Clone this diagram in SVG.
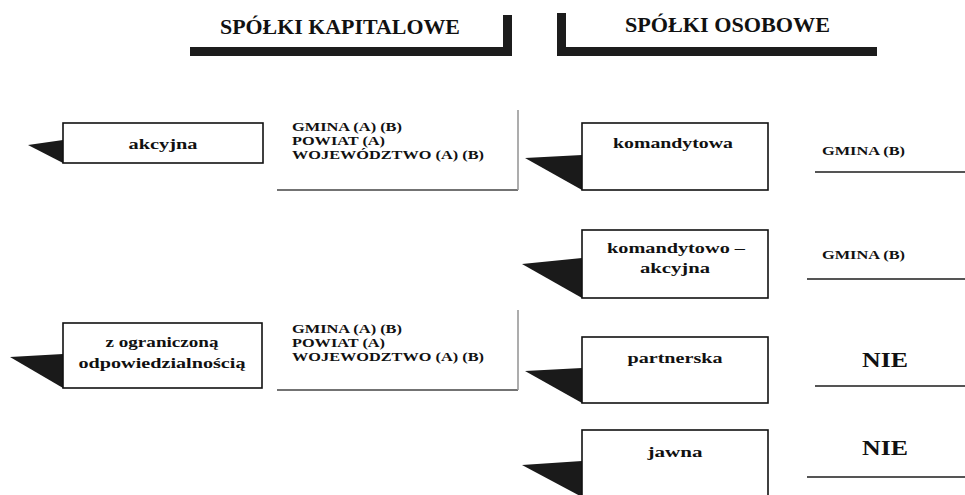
<svg xmlns="http://www.w3.org/2000/svg" width="965" height="495" viewBox="0 0 965 495">
<style>
.t{font-family:"Liberation Serif","Times New Roman",serif;font-weight:bold;fill:#111}
.h{font-size:20px}
.n{font-size:15px;text-anchor:middle}
.g{font-size:13.5px}
.nie{font-size:20px}
.box{fill:#fff;stroke:#111;stroke-width:1.6}
.bar{fill:#1c1c1c}
.ptr{fill:#1a1a1a}
.ul{stroke:#555;stroke-width:2}
.ob{stroke:#444;stroke-width:1.6;fill:none}
.obr{stroke:#999;stroke-width:1.6;fill:none}
</style>
<rect width="965" height="495" fill="#fff"/>

<g id="header-kapitalowe">
<rect class="bar" x="190" y="47" width="322" height="9"/>
<rect class="bar" x="503" y="15" width="9" height="41"/>
<text class="t h" x="220" y="34" textLength="240" lengthAdjust="spacingAndGlyphs">SPÓŁKI KAPITALOWE</text>
</g>

<g id="header-osobowe">
<rect class="bar" x="557" y="47" width="320" height="9"/>
<rect class="bar" x="557" y="13" width="9" height="43"/>
<text class="t h" x="625" y="32" textLength="205" lengthAdjust="spacingAndGlyphs">SPÓŁKI OSOBOWE</text>
</g>

<g id="node-akcyjna">
<polygon class="ptr" points="28,145 63,140 63,163"/>
<rect class="box" x="63" y="123" width="200" height="40"/>
<text class="t n" x="163" y="149" textLength="69" lengthAdjust="spacingAndGlyphs">akcyjna</text>
</g>

<g id="node-akcyjna-organy">
<path class="ob" d="M277,190 H518"/>
<path class="obr" d="M518,110 V190"/>
<text class="t g" x="292" y="131" textLength="110" lengthAdjust="spacingAndGlyphs">GMINA (A) (B)</text>
<text class="t g" x="292" y="145" textLength="93" lengthAdjust="spacingAndGlyphs">POWIAT (A)</text>
<text class="t g" x="292" y="159" textLength="192" lengthAdjust="spacingAndGlyphs">WOJEWÓDZTWO (A) (B)</text>
</g>

<g id="node-zoo">
<polygon class="ptr" points="10,357 63,354 63,388"/>
<rect class="box" x="63" y="323" width="199" height="65"/>
<text class="t n" x="162" y="347" textLength="113" lengthAdjust="spacingAndGlyphs">z ograniczoną</text>
<text class="t n" x="162" y="368" textLength="167" lengthAdjust="spacingAndGlyphs">odpowiedzialnością</text>
</g>

<g id="node-zoo-organy">
<path class="ob" d="M277,390 H518"/>
<path class="obr" d="M518,310 V390"/>
<text class="t g" x="292" y="333" textLength="110" lengthAdjust="spacingAndGlyphs">GMINA (A) (B)</text>
<text class="t g" x="292" y="347" textLength="93" lengthAdjust="spacingAndGlyphs">POWIAT (A)</text>
<text class="t g" x="292" y="361" textLength="192" lengthAdjust="spacingAndGlyphs">WOJEWODZTWO (A) (B)</text>
</g>

<g id="node-komandytowa">
<polygon class="ptr" points="525,158 582,155 582,190"/>
<rect class="box" x="582" y="123" width="186" height="67"/>
<text class="t n" x="673" y="148" textLength="120" lengthAdjust="spacingAndGlyphs">komandytowa</text>
</g>

<g id="node-komandytowa-organy">
<path class="ul" d="M815,172 H965"/>
<text class="t g" x="822" y="155" textLength="83" lengthAdjust="spacingAndGlyphs">GMINA (B)</text>
</g>

<g id="node-ska">
<polygon class="ptr" points="522,264 582,258 582,298"/>
<rect class="box" x="582" y="230" width="186" height="68"/>
<text class="t n" x="676" y="253" textLength="138" lengthAdjust="spacingAndGlyphs">komandytowo –</text>
<text class="t n" x="675" y="273" textLength="70" lengthAdjust="spacingAndGlyphs">akcyjna</text>
</g>

<g id="node-ska-organy">
<path class="ul" d="M807,279 H965"/>
<text class="t g" x="822" y="259" textLength="83" lengthAdjust="spacingAndGlyphs">GMINA (B)</text>
</g>

<g id="node-partnerska">
<polygon class="ptr" points="525,371 582,368 582,403"/>
<rect class="box" x="582" y="337" width="186" height="66"/>
<text class="t n" x="675" y="363" textLength="95" lengthAdjust="spacingAndGlyphs">partnerska</text>
</g>

<g id="node-partnerska-organy">
<path class="ul" d="M815,386 H965"/>
<text class="t nie" x="862" y="367" textLength="46" lengthAdjust="spacingAndGlyphs">NIE</text>
</g>

<g id="node-jawna">
<polygon class="ptr" points="522,465 582,461 582,497"/>
<rect class="box" x="582" y="430" width="186" height="70"/>
<text class="t n" x="675" y="457" textLength="55" lengthAdjust="spacingAndGlyphs">jawna</text>
</g>

<g id="node-jawna-organy">
<path class="ul" d="M807,477 H965"/>
<text class="t nie" x="862" y="455" textLength="46" lengthAdjust="spacingAndGlyphs">NIE</text>
</g>

<g id="connectors"></g>
</svg>
